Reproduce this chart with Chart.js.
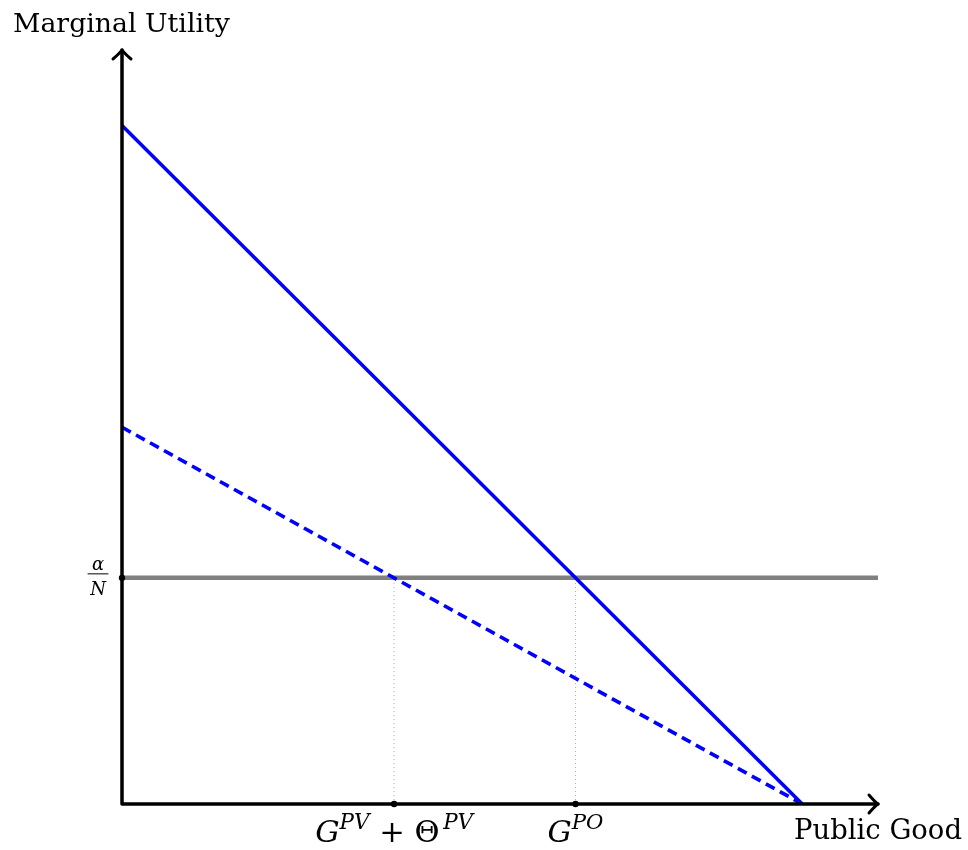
<!DOCTYPE html>
<html>
<head>
<meta charset="utf-8">
<script src="https://cdn.jsdelivr.net/npm/chart.js@4"></script>
<style>
  body { margin: 0; background: #fff; }
  #wrap { width: 968px; height: 850px; position: relative; }
</style>
</head>
<body>
<div id="wrap"><canvas id="muChart"></canvas></div>
<script>
/* axis range (both axes share the same units) */
const xMax = 16.67;
const yMax = 16.67;

/* social marginal utility (solid) and private one (dashed) */
const solidX = [0, 15];
const solidY = [15, 0];
const dashedX = [0, 15];
const dashedY = [8.33, 0];

/* marginal cost alpha/N */
const costX = [0, 16.67];
const costY = [5, 5];

/* tick positions and labels: [text, style] with i = italic, r = roman, s = superscript */
const xTicks = [6, 10];
const xTickLabels = [
  [["G", "i"], ["PV", "s"], [" + Θ", "r"], ["PV", "s"]],
  [["G", "i"], ["PO", "s"]]
];
const yTicks = [5];
const yTickTop = ["α"];
const yTickBottom = ["N"];
const xTitle = "Public Good";
const yTitle = "Marginal Utility";

const pts = (xs, ys) => xs.map((x, i) => ({ x: x, y: ys[i] }));

const datasets = [
  { data: pts(solidX, solidY), borderColor: "#0000ff", borderWidth: 3.6 },
  { data: pts(dashedX, dashedY), borderColor: "#0000ff", borderWidth: 3.6, borderDash: [10, 6] },
  { data: pts(costX, costY), borderColor: "#808080", borderWidth: 4.5 }
];
xTicks.forEach((t, i) => {
  datasets.push({
    data: pts([t, t], [0, costY[0]]),
    borderColor: "#b0b0b0", borderWidth: 1, borderDash: [1, 3]
  });
});

const SERIF = '"DejaVu Serif", "Liberation Serif", serif';

// mixed-style text centred on cx; font size picked so the width comes out as w
function richText(ctx, parts, cx, baseY, w) {
  const fontOf = (k, size) => k === "s" ? `italic ${size * 0.7}px ${SERIF}`
    : k === "i" ? `italic ${size}px ${SERIF}` : `${size}px ${SERIF}`;
  // small gap before a superscript that follows upright text
  const gapOf = (i, size) => (i > 0 && parts[i][1] === "s" && parts[i - 1][1] === "r") ? size * 0.12 : 0;
  const widthAt = (size) => {
    let t = 0;
    parts.forEach((p, i) => { ctx.font = fontOf(p[1], size); t += ctx.measureText(p[0]).width + gapOf(i, size); });
    return t;
  };
  const size = 20 * w / widthAt(20);
  let x = cx - widthAt(size) / 2;
  ctx.textAlign = "left";
  ctx.textBaseline = "alphabetic";
  parts.forEach((p, i) => {
    ctx.font = fontOf(p[1], size);
    x += gapOf(i, size);
    const dy = p[1] === "s" ? -size * 0.42 : 0;
    ctx.fillText(p[0], x, baseY + dy);
    x += ctx.measureText(p[0]).width;
  });
}

function fitText(ctx, text, left, baseY, w) {
  ctx.font = `20px ${SERIF}`;
  const size = 20 * w / ctx.measureText(text).width;
  ctx.font = `${size}px ${SERIF}`;
  ctx.textAlign = "left";
  ctx.textBaseline = "alphabetic";
  ctx.fillText(text, left, baseY);
}

const axesPlugin = {
  id: "axes",
  afterDatasetsDraw(chart) {
    const ctx = chart.ctx;
    const xs = chart.scales.x, ys = chart.scales.y;
    const ox = xs.getPixelForValue(0), oy = ys.getPixelForValue(0);
    const xEnd = xs.getPixelForValue(xMax), yEnd = ys.getPixelForValue(yMax);
    ctx.save();
    ctx.strokeStyle = "#000";
    ctx.fillStyle = "#000";
    ctx.lineWidth = 3.5;
    ctx.lineCap = "round";
    ctx.lineJoin = "round";
    // axes lines
    ctx.beginPath();
    ctx.moveTo(ox, oy); ctx.lineTo(xEnd, oy);
    ctx.moveTo(ox, oy); ctx.lineTo(ox, yEnd);
    ctx.stroke();
    // arrow heads
    ctx.lineWidth = 3;
    ctx.beginPath();
    ctx.moveTo(xEnd - 9, oy - 9); ctx.quadraticCurveTo(xEnd - 3, oy - 2, xEnd, oy);
    ctx.quadraticCurveTo(xEnd - 3, oy + 2, xEnd - 9, oy + 9);
    ctx.moveTo(ox - 9, yEnd + 9); ctx.quadraticCurveTo(ox - 2, yEnd + 3, ox, yEnd);
    ctx.quadraticCurveTo(ox + 2, yEnd + 3, ox + 9, yEnd + 9);
    ctx.stroke();
    // tick dots
    xTicks.forEach(t => {
      ctx.beginPath(); ctx.arc(xs.getPixelForValue(t), oy, 3.2, 0, Math.PI * 2); ctx.fill();
    });
    yTicks.forEach(t => {
      ctx.beginPath(); ctx.arc(ox, ys.getPixelForValue(t), 3.2, 0, Math.PI * 2); ctx.fill();
    });
    // x tick labels
    const tickW = [158, 56];
    xTicks.forEach((t, i) => richText(ctx, xTickLabels[i], xs.getPixelForValue(t), oy + 38, tickW[i]));
    // y tick label as fraction
    yTicks.forEach((t, i) => {
      const py = ys.getPixelForValue(t);
      const fx = ox - 24;
      ctx.textAlign = "center";
      ctx.textBaseline = "alphabetic";
      ctx.font = `italic 18px ${SERIF}`;
      ctx.fillText(yTickTop[i], fx, py - 8);
      ctx.fillText(yTickBottom[i], fx, py + 17);
      ctx.lineWidth = 1;
      ctx.beginPath(); ctx.moveTo(fx - 10, py - 4); ctx.lineTo(fx + 10, py - 4); ctx.stroke();
    });
    // axis titles
    fitText(ctx, xTitle, 794, oy + 35, 168);
    fitText(ctx, yTitle, 13, 32, 217);
    ctx.restore();
  }
};

new Chart(document.getElementById("muChart"), {
  type: "scatter",
  data: { datasets: datasets },
  options: {
    responsive: true,
    maintainAspectRatio: false,
    animation: false,
    showLine: true,
    layout: { padding: { left: 122, right: 90, top: 50, bottom: 46 } },
    elements: { point: { radius: 0, hoverRadius: 0 }, line: { fill: false } },
    plugins: { legend: { display: false }, tooltip: { enabled: false } },
    scales: {
      x: { type: "linear", min: 0, max: xMax, display: false },
      y: { type: "linear", min: 0, max: yMax, display: false }
    }
  },
  plugins: [axesPlugin]
});
</script>
</body>
</html>
